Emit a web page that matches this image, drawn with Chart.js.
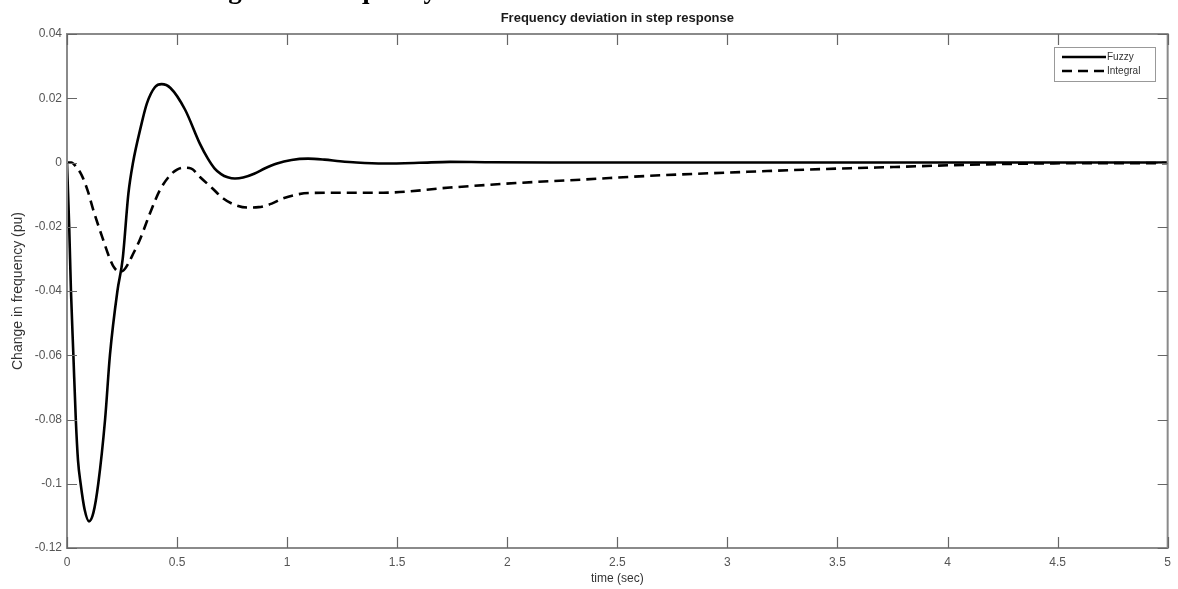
<!DOCTYPE html>
<html><head><meta charset="utf-8">
<script src="https://cdn.jsdelivr.net/npm/chart.js@4"></script>
<style>html,body{margin:0;padding:0;background:#fff}#wrap{width:1178px;height:589px}</style>
</head><body><div id="wrap"><canvas id="c" width="1178" height="589"></canvas></div>
<script>
const fuzzyT = [0, 0.005, 0.01, 0.014, 0.018, 0.029, 0.04, 0.05, 0.062, 0.08, 0.1, 0.12, 0.142, 0.173, 0.195, 0.229, 0.253, 0.279, 0.30, 0.335, 0.363, 0.40, 0.43, 0.47, 0.536, 0.604, 0.64, 0.67, 0.70, 0.73, 0.763, 0.80, 0.85, 0.90, 0.95, 1.02, 1.095, 1.17, 1.24, 1.315, 1.44, 1.6, 1.74, 1.9, 2.2, 2.6, 3, 3.5, 4, 4.5, 5];
const fuzzyV = [0, -0.010, -0.020, -0.030, -0.040, -0.060, -0.080, -0.0927, -0.100, -0.108, -0.1117, -0.109, -0.100, -0.080, -0.060, -0.040, -0.030, -0.0096, 0, 0.011, 0.0184, 0.0235, 0.0244, 0.0232, 0.0165, 0.0058, 0.0012, -0.0018, -0.0036, -0.0046, -0.005, -0.0047, -0.0035, -0.0018, -0.0004, 0.0008, 0.0012, 0.0009, 0.0004, 0, -0.0003, -0.0001, 0.0002, 0.0001, 0, 0, 0, 0, 0, 0, 0];
const integralT = [0, 0.02, 0.04, 0.067, 0.095, 0.12, 0.165, 0.195, 0.215, 0.237, 0.258, 0.278, 0.30, 0.33, 0.377, 0.422, 0.468, 0.50, 0.532, 0.565, 0.604, 0.66, 0.71, 0.76, 0.82, 0.87, 0.93, 0.98, 1.1, 1.25, 1.437, 1.74, 2.04, 2.345, 2.63, 3.09, 3.45, 3.76, 4.09, 4.43, 4.75, 5];
const integralV = [0, 0, -0.0012, -0.004, -0.009, -0.0149, -0.0242, -0.030, -0.0328, -0.034, -0.0335, -0.0315, -0.0285, -0.0242, -0.0158, -0.0086, -0.004, -0.0022, -0.0016, -0.0019, -0.0045, -0.008, -0.0112, -0.0131, -0.014, -0.0139, -0.0128, -0.0112, -0.0095, -0.0094, -0.0094, -0.0078, -0.0064, -0.0053, -0.0042, -0.0029, -0.002, -0.0014, -0.0007, -0.0003, -0.0002, -0.0002];
const xTicks = [0, 0.5, 1, 1.5, 2, 2.5, 3, 3.5, 4, 4.5, 5];
const xTickLabels = ['0', '0.5', '1', '1.5', '2', '2.5', '3', '3.5', '4', '4.5', '5'];
const yTicks = [-0.12, -0.1, -0.08, -0.06, -0.04, -0.02, 0, 0.02, 0.04];
const yTickLabels = ['-0.12', '-0.1', '-0.08', '-0.06', '-0.04', '-0.02', '0', '0.02', '0.04'];
const seriesNames = ['Fuzzy', 'Integral'];
const titleText = 'Frequency deviation in step response';
const captionWords = ['Change in', 'frequency'];

const toPts = (ts, vs) => ts.map((t, i) => ({x: t, y: vs[i]}));

const decor = {
  id: 'decor',
  afterDraw(chart) {
    const {ctx, chartArea: a, scales: {x, y}} = chart;
    ctx.save();
    // caption fragment (cut off at top edge of the picture)
    ctx.font = 'bold 27px "Liberation Serif"';
    ctx.fillStyle = '#000';
    ctx.textBaseline = 'alphabetic';
    ctx.textAlign = 'left';
    const off1 = ctx.measureText('Chan').width + ctx.measureText('g').width / 2;
    ctx.fillText(captionWords[0], 235 - off1, -2.5);
    const off2 = ctx.measureText('fre').width + ctx.measureText('q').width / 2;
    ctx.fillText(captionWords[1], 362 - off2, -2.5);
    // title
    ctx.font = 'bold 13px "Liberation Sans"';
    ctx.fillStyle = '#1a1a1a';
    ctx.textAlign = 'center';
    ctx.textBaseline = 'middle';
    ctx.fillText(titleText, (a.left + a.right) / 2, 18);
    // frame
    ctx.strokeStyle = '#8a8a8a';
    ctx.lineWidth = 2;
    ctx.strokeRect(a.left, a.top, a.right - a.left, a.bottom - a.top);
    // inward ticks
    ctx.strokeStyle = '#666';
    ctx.lineWidth = 1.2;
    ctx.beginPath();
    xTicks.forEach(v => {
      const px = Math.round(x.getPixelForValue(v)) + 0.5;
      ctx.moveTo(px, a.bottom); ctx.lineTo(px, a.bottom - 11);
      ctx.moveTo(px, a.top); ctx.lineTo(px, a.top + 11);
    });
    yTicks.forEach(v => {
      const py = Math.round(y.getPixelForValue(v)) + 0.5;
      ctx.moveTo(a.left, py); ctx.lineTo(a.left + 10, py);
      ctx.moveTo(a.right, py); ctx.lineTo(a.right - 10, py);
    });
    ctx.stroke();
    // legend
    const lx = 1054, ly = 47, lw = 101, lh = 34;
    ctx.fillStyle = '#fff';
    ctx.fillRect(lx, ly, lw, lh);
    ctx.strokeStyle = '#999';
    ctx.lineWidth = 1;
    ctx.strokeRect(lx + 0.5, ly + 0.5, lw, lh);
    chart.data.datasets.forEach((ds, i) => {
      const yy = ly + 10 + i * 14;
      ctx.strokeStyle = ds.borderColor;
      ctx.lineWidth = ds.borderWidth;
      ctx.setLineDash(ds.borderDash || []);
      ctx.beginPath();
      ctx.moveTo(lx + 8, yy); ctx.lineTo(lx + 52, yy);
      ctx.stroke();
      ctx.setLineDash([]);
      ctx.fillStyle = '#333';
      ctx.font = '10px "Liberation Sans"';
      ctx.textAlign = 'left';
      ctx.textBaseline = 'middle';
      ctx.fillText(ds.label, lx + 53, yy);
    });
    ctx.restore();
  }
};

new Chart(document.getElementById('c'), {
  type: 'line',
  data: {
    datasets: [
      {label: seriesNames[0], data: toPts(fuzzyT, fuzzyV), borderColor: '#000', borderWidth: 2.6,
       pointRadius: 0, cubicInterpolationMode: 'monotone', fill: false},
      {label: seriesNames[1], data: toPts(integralT, integralV), borderColor: '#000', borderWidth: 2.6,
       borderDash: [10, 6], pointRadius: 0, cubicInterpolationMode: 'monotone', fill: false}
    ]
  },
  options: {
    responsive: false, animation: false, devicePixelRatio: 1,
    layout: {padding: {left: 0, right: 10, top: 34, bottom: 0}},
    plugins: {legend: {display: false}, title: {display: false}, tooltip: {enabled: false}},
    scales: {
      x: {
        type: 'linear', min: 0, max: 5,
        afterBuildTicks: s => { s.ticks = xTicks.map(v => ({value: v})); },
        afterFit: s => { s.height = 41; },
        grid: {display: false, drawTicks: false},
        border: {display: false},
        ticks: {padding: 7, color: '#555', font: {family: 'Liberation Sans', size: 12}, maxRotation: 0,
          callback: v => { const i = xTicks.findIndex(t => Math.abs(t - v) < 1e-9); return i >= 0 ? xTickLabels[i] : ''; }},
        title: {display: true, text: 'time (sec)', color: '#333', font: {family: 'Liberation Sans', size: 12}, padding: {top: 0, bottom: 3}}
      },
      y: {
        type: 'linear', min: -0.12, max: 0.04,
        afterBuildTicks: s => { s.ticks = yTicks.map(v => ({value: v})); },
        afterFit: s => { s.width = 67; },
        grid: {display: false, drawTicks: false},
        border: {display: false},
        ticks: {padding: 5, color: '#555', font: {family: 'Liberation Sans', size: 12},
          callback: v => { const i = yTicks.findIndex(t => Math.abs(t - v) < 1e-9); return i >= 0 ? yTickLabels[i] : ''; }},
        title: {display: true, text: 'Change in frequency (pu)', color: '#333', font: {family: 'Liberation Sans', size: 14}, padding: {top: 10, bottom: 0}}
      }
    }
  },
  plugins: [decor]
});
</script></body></html>
